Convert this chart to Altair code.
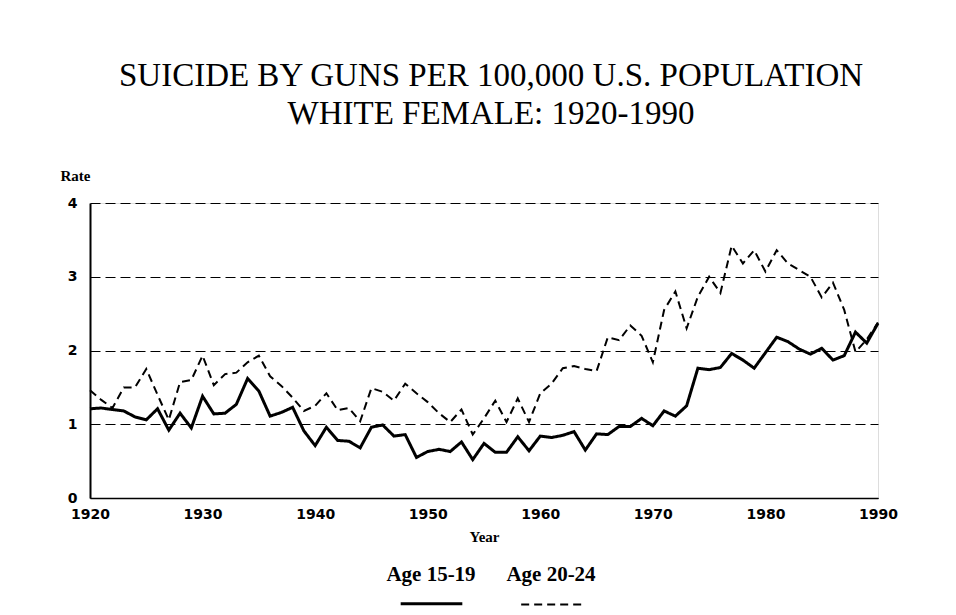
import altair as alt
import pandas as pd

years = list(range(1920, 1991))

age_15_19 = [
    1.21, 1.22, 1.20, 1.18, 1.10, 1.06, 1.21, 0.92, 1.15, 0.95,
    1.38, 1.14, 1.15, 1.27, 1.62, 1.45, 1.11, 1.16, 1.23, 0.91,
    0.71, 0.96, 0.78, 0.77, 0.68, 0.96, 0.99, 0.84, 0.86, 0.55,
    0.63, 0.66, 0.63, 0.76, 0.52, 0.74, 0.62, 0.62, 0.83, 0.64,
    0.84, 0.82, 0.85, 0.90, 0.65, 0.87, 0.86, 0.97, 0.97, 1.08,
    0.98, 1.18, 1.11, 1.25, 1.76, 1.74, 1.77, 1.96, 1.87, 1.76,
    1.97, 2.18, 2.12, 2.02, 1.95, 2.03, 1.87, 1.93, 2.25, 2.10,
    2.37,
]

age_20_24 = [
    1.46, 1.33, 1.22, 1.50, 1.50, 1.75, 1.40, 1.06, 1.57, 1.60,
    1.93, 1.53, 1.68, 1.70, 1.84, 1.93, 1.65, 1.52, 1.36, 1.18,
    1.25, 1.42, 1.19, 1.22, 1.04, 1.49, 1.44, 1.32, 1.55, 1.42,
    1.30, 1.15, 1.03, 1.20, 0.86, 1.08, 1.32, 1.03, 1.35, 1.03,
    1.42, 1.55, 1.76, 1.79, 1.75, 1.72, 2.18, 2.14, 2.34, 2.20,
    1.84, 2.55, 2.80, 2.30, 2.73, 3.00, 2.78, 3.42, 3.18, 3.36,
    3.07, 3.36, 3.18, 3.09, 3.00, 2.72, 2.92, 2.55, 1.98, 2.15,
    2.38,
]

series_names = ["Age 15-19", "Age 20-24"]
x_ticks = [1920, 1930, 1940, 1950, 1960, 1970, 1980, 1990]
y_ticks = [0, 1, 2, 3, 4]
title_lines = ["SUICIDE BY GUNS PER 100,000 U.S. POPULATION",
               "WHITE FEMALE: 1920-1990"]

df = pd.DataFrame({
    "Year": years + years,
    "Rate": age_15_19 + age_20_24,
    "Series": [series_names[0]] * len(years) + [series_names[1]] * len(years),
})

legend_cfg = dict(
    title=None,
    orient="none",
    legendX=309,
    legendY=345,
    direction="horizontal",
    symbolType="M-1,0.75H1",
    symbolSize=3800,
    symbolStrokeColor="black",
    symbolFillColor="transparent",
    labelFont="Liberation Serif",
    labelFontWeight="bold",
    labelFontSize=21,
    labelColor="black",
    labelAlign="center",
    labelBaseline="alphabetic",
    labelOffset={"expr": "-33"},
    labelLimit=0,
    columnPadding=30,
)

chart = alt.Chart(df).mark_line(color="black").encode(
    x=alt.X(
        "Year:Q",
        scale=alt.Scale(domain=[1920, 1990], nice=False, zero=False),
        axis=alt.Axis(
            values=x_ticks, format="d", title="Year", grid=False, ticks=False,
            labelFlush=False,
            labelFont="DejaVu Sans", labelFontWeight="bold", labelFontSize=14,
            labelColor="black", labelPadding=9,
            titleFont="Liberation Serif", titleFontWeight="bold", titleFontSize=15,
            titleColor="black", titlePadding=8,
            domainColor="black", domainWidth=1.5,
        ),
    ),
    y=alt.Y(
        "Rate:Q",
        scale=alt.Scale(domain=[0, 4], nice=False),
        axis=alt.Axis(
            values=y_ticks, format="d", title="Rate", titleAngle=0,
            titleAlign="left", titleBaseline="middle", titleX=-30, titleY=-28,
            titleFont="Liberation Serif", titleFontWeight="bold", titleFontSize=15,
            titleColor="black",
            grid=True, gridDash=[10, 5], gridColor="black", gridWidth=1, gridOpacity=1,
            ticks=False, labelPadding=13, labelFlush=False,
            labelFont="DejaVu Sans", labelFontWeight="bold", labelFontSize=14,
            labelColor="black",
            domainColor="black", domainWidth=2,
        ),
    ),
    strokeDash=alt.StrokeDash(
        "Series:N",
        scale=alt.Scale(domain=series_names, range=[[1, 0], [8, 5]]),
        legend=alt.Legend(**legend_cfg),
    ),
    strokeWidth=alt.StrokeWidth(
        "Series:N",
        scale=alt.Scale(domain=series_names, range=[3, 2]),
        legend=alt.Legend(**legend_cfg),
    ),
).properties(
    width=788,
    height=295,
    title=alt.Title(
        title_lines,
        font="Liberation Serif",
        fontSize=33,
        fontWeight="normal",
        color="black",
        lineHeight=38,
        anchor="middle",
        offset=37,
        dx=7,
    ),
    autosize=alt.AutoSizeParams(type="none"),
    padding={"left": 82, "top": 195, "right": 70, "bottom": 110},
).configure_view(
    stroke="black", strokeWidth=1.5
).configure(background="white")

chart.save("out.html", embed_options={"renderer": "svg", "actions": False})
